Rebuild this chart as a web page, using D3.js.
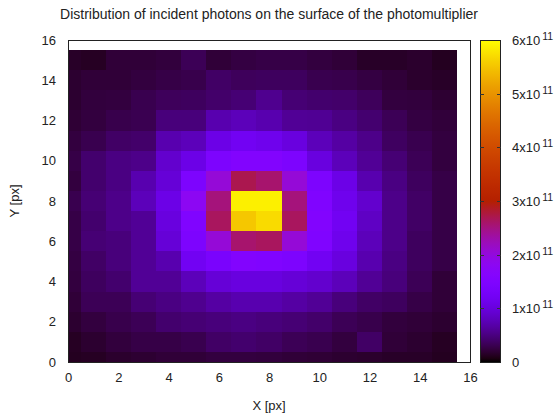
<!DOCTYPE html>
<html>
<head>
<meta charset="utf-8">
<script src="https://cdn.jsdelivr.net/npm/d3@7"></script>
<style>
  html, body { margin: 0; padding: 0; background: #fff; }
  svg { display: block; font-family: "Liberation Sans", Arial, sans-serif; }
</style>
</head>
<body>
<svg id="chart" width="559" height="413"></svg>
<script>
// ---- data (values in units of 1e11 photons) ----
const xIndex = [0,1,2,3,4,5,6,7,8,9,10,11,12,13,14,15];
// rows listed from Y = 15 (top) down to Y = 0 (bottom)
const yIndex = [15,14,13,12,11,10,9,8,7,6,5,4,3,2,1,0];
const row15 = [0.15,0.13,0.21,0.21,0.23,0.33,0.21,0.25,0.27,0.27,0.24,0.21,0.15,0.15,0.17,0.12];
const row14 = [0.18,0.21,0.21,0.24,0.27,0.29,0.39,0.35,0.36,0.36,0.30,0.29,0.25,0.21,0.17,0.15];
const row13 = [0.18,0.23,0.24,0.30,0.35,0.36,0.41,0.45,0.57,0.45,0.42,0.41,0.35,0.24,0.23,0.19];
const row12 = [0.20,0.24,0.29,0.31,0.48,0.48,0.72,0.78,0.72,0.60,0.59,0.51,0.43,0.33,0.25,0.22];
const row11 = [0.24,0.30,0.39,0.41,0.72,0.78,1.08,1.20,1.14,1.02,0.78,0.66,0.54,0.37,0.30,0.24];
const row10 = [0.27,0.42,0.51,0.54,0.90,1.08,1.44,1.56,1.56,1.44,1.02,0.78,0.60,0.45,0.33,0.24];
const row9  = [0.24,0.42,0.51,0.72,0.96,1.44,2.04,2.70,2.58,2.04,1.44,1.08,0.72,0.51,0.36,0.27];
const row8  = [0.30,0.45,0.54,0.78,1.08,1.80,2.52,5.88,5.88,2.52,1.50,1.14,0.90,0.54,0.39,0.27];
const row7  = [0.27,0.42,0.54,0.60,1.02,1.50,2.64,5.52,5.70,2.64,1.56,1.20,0.84,0.54,0.39,0.27];
const row6  = [0.27,0.45,0.48,0.60,0.96,1.44,2.04,2.58,2.64,2.04,1.50,1.14,0.78,0.54,0.36,0.27];
const row5  = [0.25,0.39,0.48,0.60,0.72,1.20,1.38,1.56,1.50,1.44,1.20,1.02,0.72,0.51,0.36,0.27];
const row4  = [0.24,0.36,0.42,0.60,0.60,0.78,0.96,1.02,1.02,0.96,0.90,0.78,0.60,0.48,0.33,0.21];
const row3  = [0.21,0.33,0.33,0.45,0.51,0.57,0.66,0.72,0.72,0.66,0.60,0.48,0.39,0.36,0.27,0.21];
const row2  = [0.18,0.24,0.29,0.33,0.42,0.45,0.48,0.51,0.48,0.45,0.41,0.33,0.29,0.23,0.21,0.18];
const row1  = [0.13,0.18,0.23,0.27,0.27,0.30,0.39,0.42,0.39,0.33,0.30,0.24,0.39,0.21,0.18,0.13];
const row0  = [0.12,0.13,0.17,0.19,0.21,0.21,0.24,0.24,0.23,0.21,0.20,0.18,0.17,0.15,0.15,0.12];
const rows = [row15,row14,row13,row12,row11,row10,row9,row8,row7,row6,row5,row4,row3,row2,row1,row0];

const xTicks = [0,2,4,6,8,10,12,14,16];
const yTicks = [0,2,4,6,8,10,12,14,16];
const cbTicks = [0,1,2,3,4,5,6];
const cbMax = 6;
const title = "Distribution of incident photons on the surface of the photomultiplier";
const xLabel = "X [px]";
const yLabel = "Y [px]";

// ---- palette (gnuplot rgbformulae 7,5,15) ----
function pal(t) {
  t = Math.max(0, Math.min(1, t));
  const r = Math.sqrt(t), g = t * t * t, b = Math.max(0, Math.sin(2 * Math.PI * t));
  return d3.rgb(Math.round(r * 255), Math.round(g * 255), Math.round(b * 255)).toString();
}
const color = v => pal(v / cbMax);

// ---- layout ----
const svg = d3.select("#chart");
const L = 68, R = 470, T = 40, B = 362;
const x = d3.scaleLinear().domain([0, 16]).range([L, R]);
const y = d3.scaleLinear().domain([0, 16]).range([B, T]);
const cbX0 = 480, cbX1 = 500;
const cy = d3.scaleLinear().domain([0, cbMax]).range([B, T]);
const FS = 13;

// cells
const cells = [];
rows.forEach((row, ri) => row.forEach((v, ci) => cells.push({ xi: xIndex[ci], yi: yIndex[ri], v })));
svg.append("g").attr("shape-rendering", "crispEdges")
  .selectAll("rect").data(cells).join("rect")
  .attr("x", d => x(Math.max(0, d.xi - 0.5)))
  .attr("width", d => x(Math.min(16, d.xi + 0.5)) - x(Math.max(0, d.xi - 0.5)))
  .attr("y", d => y(Math.min(16, d.yi + 0.5)))
  .attr("height", d => y(Math.max(0, d.yi - 0.5)) - y(Math.min(16, d.yi + 0.5)))
  .attr("fill", d => color(d.v));

// frame
svg.append("rect").attr("x", L + 0.5).attr("y", T + 0.5)
  .attr("width", R - L).attr("height", B - T)
  .attr("fill", "none").attr("stroke", "#222").attr("stroke-width", 1);

// axes
const xAxis = svg.append("g").attr("transform", `translate(0,${B})`)
  .call(d3.axisBottom(x).tickValues(xTicks).tickSize(0).tickPadding(11).tickFormat(d3.format("d")));
const yAxis = svg.append("g").attr("transform", `translate(${L},0)`)
  .call(d3.axisLeft(y).tickValues(yTicks).tickSize(0).tickPadding(12).tickFormat(d3.format("d")));
[xAxis, yAxis].forEach(a => {
  a.select(".domain").remove();
  a.selectAll("text").attr("font-size", FS).attr("fill", "#222")
    .attr("font-family", '"Liberation Sans", Arial, sans-serif');
});

// colorbar gradient
const defs = svg.append("defs");
const grad = defs.append("linearGradient").attr("id", "cbgrad")
  .attr("x1", 0).attr("y1", 1).attr("x2", 0).attr("y2", 0);
d3.range(0, 101).forEach(i => {
  grad.append("stop").attr("offset", i / 100).attr("stop-color", pal(i / 100));
});
svg.append("rect").attr("x", cbX0).attr("y", cy(cbMax)).attr("width", cbX1 - cbX0)
  .attr("height", cy(0) - cy(cbMax)).attr("fill", "url(#cbgrad)");
svg.append("rect").attr("x", cbX0 + 0.5).attr("y", cy(cbMax) + 0.5).attr("width", cbX1 - cbX0)
  .attr("height", cy(0) - cy(cbMax)).attr("fill", "none").attr("stroke", "#222");

// colorbar ticks
const cbg = svg.append("g");
cbTicks.forEach(t => {
  const yy = Math.round(cy(t)) + 0.5;
  if (t > 0 && t < cbMax) {
    cbg.append("line").attr("x1", cbX0).attr("x2", cbX0 + 4).attr("y1", yy).attr("y2", yy).attr("stroke", "#333");
    cbg.append("line").attr("x1", cbX1 - 3).attr("x2", cbX1 + 1).attr("y1", yy).attr("y2", yy).attr("stroke", "#333");
  }
  const txt = cbg.append("text").attr("x", 512).attr("y", cy(t) + 5)
    .attr("font-size", FS).attr("fill", "#222");
  if (t === 0) {
    txt.text("0");
  } else {
    txt.append("tspan").text(t + "x10");
    txt.append("tspan").attr("dx", 2).attr("dy", -5).attr("font-size", 10.5).text("11");
  }
});

// titles
svg.append("text").attr("x", (L + R) / 2).attr("y", 18.5).attr("text-anchor", "middle")
  .attr("font-size", 14).attr("fill", "#222").text(title);
svg.append("text").attr("x", (L + R) / 2).attr("y", 410).attr("text-anchor", "middle")
  .attr("font-size", FS).attr("fill", "#222").text(xLabel);
svg.append("text").attr("transform", `translate(19,${(T + B) / 2}) rotate(-90)`)
  .attr("text-anchor", "middle").attr("font-size", FS).attr("fill", "#222").text(yLabel);
</script>
</body>
</html>
